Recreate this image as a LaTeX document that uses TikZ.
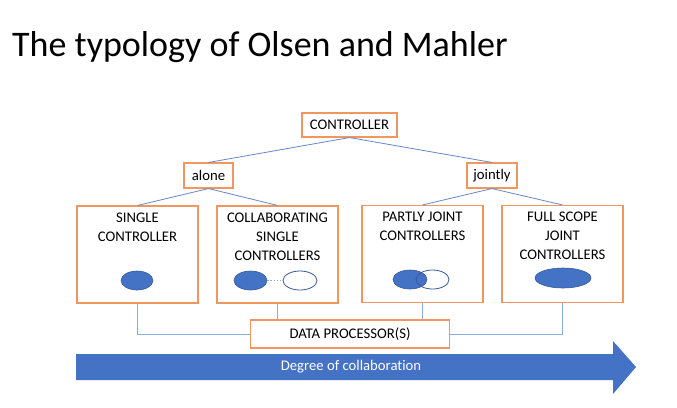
\documentclass[tikz,border=0pt]{standalone}
\usepackage{fontspec}
\setmainfont{Carlito}[Ligatures=NoCommon]
\usepackage{tikz}
\usetikzlibrary{shapes.geometric,positioning}
\definecolor{boxorange}{RGB}{240,150,95}
\definecolor{msblue}{RGB}{68,114,196}
\definecolor{lineblue}{RGB}{100,135,205}
\definecolor{paleblue}{RGB}{143,170,220}

\begin{document}
\begin{tikzpicture}[x=1bp, y=-1bp, font=\fontsize{14.7bp}{19bp}\selectfont,
    box/.style={rectangle, draw=boxorange, line width=1.1bp, fill=white, inner sep=0pt},
    kind/.style={box, minimum width=121bp, minimum height=97bp},
    boxtext/.style={anchor=north, align=center, inner sep=0pt, yshift=-7bp},
    link/.style={draw=lineblue, line width=0.8bp},
    full/.style={ellipse, draw=msblue!80!black, fill=msblue, line width=0.6bp, inner sep=0pt},
    open/.style={ellipse, draw=msblue!80!black, line width=0.8bp, inner sep=0pt}]
    \useasboundingbox (0,0) rectangle (677,407);
    \node[anchor=base west, inner sep=0pt, font=\fontsize{36bp}{40bp}\selectfont] (title) at (12,56.7) {The typology of Olsen and Mahler};
    % tree of controllers
    \node[box, minimum width=95bp, minimum height=24bp] (controller) at (349.5,125) {CONTROLLER};
    \node[box, minimum width=49bp, minimum height=25bp] (alone) at (208.5,175.5) {alone};
    \node[box, minimum width=50bp, minimum height=25bp] (jointly) at (492,175.5) {jointly};
    \node[kind, label={[boxtext]north:SINGLE\\CONTROLLER}] (single) at (137.5,254.5) {};
    \node[kind, label={[boxtext]north:COLLABORATING\\SINGLE\\CONTROLLERS}] (collab) at (277.5,254.5) {};
    \node[kind, label={[boxtext]north:PARTLY JOINT\\CONTROLLERS}] (partly) at (422.5,254) {};
    \node[kind, label={[boxtext]north:FULL SCOPE\\JOINT\\CONTROLLERS}] (fullscope) at (562.5,254) {};
    \node[box, minimum width=199bp, minimum height=28bp] (dp) at (350,334) {DATA PROCESSOR(S)};
    \draw[link] (controller.south) -- (alone.north);
    \draw[link] (controller.south) -- (jointly.north);
    \draw[link] (alone.south) -- (single.north);
    \draw[link] (alone.south) -- (collab.north);
    \draw[link] (jointly.south) -- (partly.north);
    \draw[link] (jointly.south) -- (fullscope.north);
    \draw[link, draw=paleblue] (single.south) |- (dp.west);
    \draw[link, draw=paleblue] (collab.south) -- (collab.south |- dp.north);
    \draw[link, draw=paleblue] (partly.south) -- (partly.south |- dp.north);
    \draw[link, draw=paleblue] (fullscope.south) |- (dp.east);
    % ellipses
    \node[full, minimum width=32bp, minimum height=19bp] (s1) at (137,280.5) {};
    \node[full, minimum width=33bp, minimum height=19bp] (c1) at (250.5,280.5) {};
    \node[open, minimum width=34bp, minimum height=19bp] (c2) at (300,280.5) {};
    \draw[paleblue, line width=1.2bp, dotted] (c1) -- (c2);
    \node[full, minimum width=34bp, minimum height=19bp] (p1) at (410,279.5) {};
    \node[open, minimum width=33bp, minimum height=19bp] (p2) at (432.5,279.5) {};
    \node[full, minimum width=56bp, minimum height=20bp] (f1) at (563,278) {};
    % degree arrow
    \fill[msblue] (76,354) -- (613,354) -- (613,341) -- (636,367) -- (613,394) -- (613,380) -- (76,380) -- cycle;
    \node[text=white] (degree) at (351,367) {Degree of collaboration};
\end{tikzpicture}
\end{document}
